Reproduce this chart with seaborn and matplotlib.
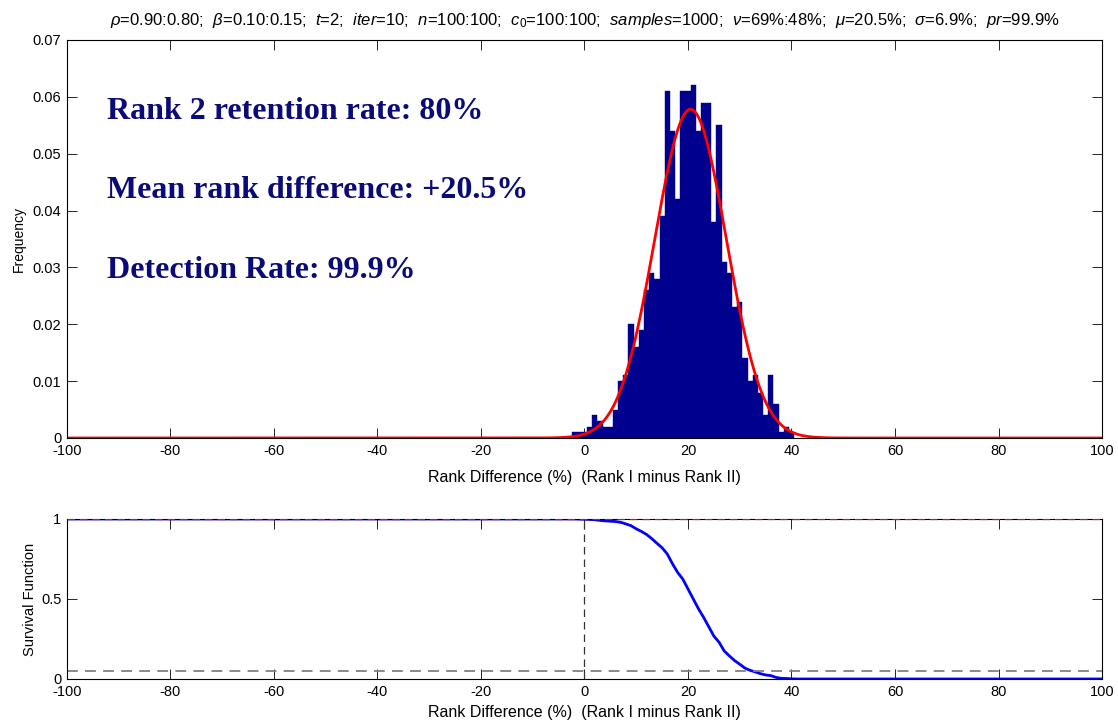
import numpy as np
import pandas as pd
import matplotlib
matplotlib.use("Agg")
import matplotlib.pyplot as plt
import seaborn as sns

# ---- data ----
rank_diff = [-2, -1, 0, 1, 2, 3, 4, 5, 6, 7, 8, 9, 10, 11, 12, 13, 14, 15, 16, 17, 18, 19,
             20, 21, 22, 23, 24, 25, 26, 27, 28, 29, 30, 31, 32, 33, 34, 35, 36, 37, 38, 39, 40]
frequency = [0.001, 0.001, 0.001, 0.002, 0.004, 0.003, 0.002, 0.002, 0.005, 0.010, 0.011,
             0.020, 0.016, 0.019, 0.026, 0.029, 0.028, 0.039, 0.061, 0.054, 0.042, 0.061,
             0.061, 0.062, 0.054, 0.059, 0.059, 0.038, 0.055, 0.031, 0.029, 0.023, 0.024,
             0.014, 0.010, 0.011, 0.008, 0.004, 0.011, 0.006, 0.001, 0.002, 0.001]
mu = 20.5
sigma = 6.9
threshold = 0.05
x_ticks = [-100, -80, -60, -40, -20, 0, 20, 40, 60, 80, 100]
y_ticks_top = [0, 0.01, 0.02, 0.03, 0.04, 0.05, 0.06, 0.07]
y_tick_labels_top = ["0", "0.01", "0.02", "0.03", "0.04", "0.05", "0.06", "0.07"]
y_ticks_bottom = [0, 0.5, 1]
y_tick_labels_bottom = ["0", "0.5", "1"]
annotations = ["Rank 2 retention rate: 80%", "Mean rank difference: +20.5%", "Detection Rate: 99.9%"]
title_text = (r"$\rho$=0.90:0.80;  $\beta$=0.10:0.15;  $t$=2;  $iter$=10;  $n$=100:100;  "
              r"$c_0$=100:100;  $samples$=1000;  $\nu$=69%:48%;  $\mu$=20.5%;  "
              r"$\sigma$=6.9%;  $pr$=99.9%")
xlabel = "Rank Difference (%)  (Rank I minus Rank II)"

sns.set_theme(style="white")
plt.rcParams["font.family"] = ["Liberation Sans", "DejaVu Sans"]
plt.rcParams["mathtext.fontset"] = "custom"
plt.rcParams["mathtext.rm"] = "Liberation Sans"
plt.rcParams["mathtext.it"] = "Liberation Sans:italic"
plt.rcParams["mathtext.bf"] = "Liberation Sans:bold"
plt.rcParams["axes.edgecolor"] = "black"
plt.rcParams["axes.linewidth"] = 0.8
plt.rcParams["text.color"] = "black"
plt.rcParams["axes.labelcolor"] = "black"
plt.rcParams["xtick.color"] = "black"
plt.rcParams["ytick.color"] = "black"

df = pd.DataFrame({"rank_diff": rank_diff, "frequency": frequency})

fig = plt.figure(figsize=(11.18, 7.23), dpi=100)
ax1 = fig.add_axes([0.0599, 0.3942, 0.9258, 0.5505])
ax2 = fig.add_axes([0.0599, 0.0609, 0.9258, 0.2213])

# ---- top: histogram + normal fit ----
sns.histplot(data=df, x="rank_diff", weights="frequency", discrete=True, stat="count",
             color="#00008F", edgecolor="#00008F", linewidth=0.3, alpha=1.0, ax=ax1)
xs = np.linspace(-100, 100, 2001)
pdf = np.exp(-0.5 * ((xs - mu) / sigma) ** 2) / (sigma * np.sqrt(2 * np.pi))
sns.lineplot(x=xs, y=pdf, color="red", linewidth=2, ax=ax1)

ax1.set_xlim(-100, 100)
ax1.set_ylim(0, 0.07)
ax1.set_xticks(x_ticks)
ax1.set_xticklabels([str(t) for t in x_ticks])
ax1.set_yticks(y_ticks_top)
ax1.set_yticklabels(y_tick_labels_top)
ax1.set_xlabel(xlabel, fontsize=11.5, labelpad=9)
ax1.set_ylabel("Frequency", fontsize=10, labelpad=5)
ax1.set_title(title_text, fontsize=12, pad=11)

ys = [0.0575, 0.0435, 0.0294]
for txt, yy in zip(annotations, ys):
    ax1.text(-92.3, yy, txt, fontsize=23, fontweight="bold", color="#0A0A78",
             family=["Liberation Serif", "DejaVu Serif"], va="center", ha="left")

# ---- bottom: survival function ----
grid = np.arange(-100, 101)
freq_arr = np.array(frequency)
rd_arr = np.array(rank_diff)
surv = np.array([freq_arr[rd_arr >= g].sum() for g in grid])
surv = np.clip(surv, 0, 1)
sns.lineplot(x=grid, y=surv, color="blue", linewidth=2, ax=ax2)
ax2.axhline(1, color="red", linestyle=(0, (6, 4)), linewidth=0.9, zorder=5)
ax2.axhline(threshold, color="gray", linestyle=(0, (6, 4)), linewidth=1.3)
ax2.axvline(0, color="#333333", linestyle=(0, (6, 4)), linewidth=0.9)

ax2.set_xlim(-100, 100)
ax2.set_ylim(0, 1)
ax2.set_xticks(x_ticks)
ax2.set_xticklabels([str(t) for t in x_ticks])
ax2.set_yticks(y_ticks_bottom)
ax2.set_yticklabels(y_tick_labels_bottom)
ax2.set_xlabel(xlabel, fontsize=11.5, labelpad=5)
ax2.set_ylabel("Survival Function", fontsize=10.5, labelpad=3)

for ax in (ax1, ax2):
    for s in ax.spines.values():
        s.set_visible(True)
        s.set_color("black")
        s.set_linewidth(0.8)
    ax.tick_params(axis="both", which="major", direction="in", length=7, width=0.6,
                   labelsize=10.5, top=True, right=True, bottom=True, left=True,
                   pad=4, colors="black")

fig.savefig("out.png", dpi=100, facecolor="white")
